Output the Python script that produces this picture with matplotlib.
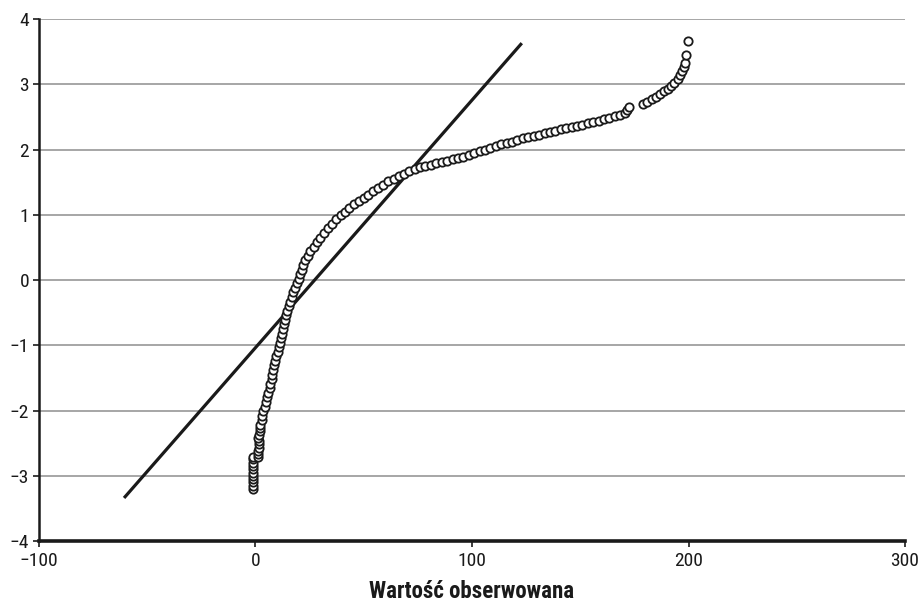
import matplotlib
matplotlib.use("Agg")
import matplotlib.pyplot as plt
from matplotlib import font_manager

# Prefer a narrow sans face for the labels
_names = {f.name for f in font_manager.fontManager.ttflist}
_narrow = [n for n in ('Liberation Sans Narrow', 'Roboto Condensed',
                       'Open Sans Condensed', 'DejaVu Sans Condensed')
           if n in _names]
plt.rcParams['font.family'] = _narrow + ['DejaVu Sans']
plt.rcParams['font.stretch'] = 'condensed'

# Observed values (x) and expected normal quantiles (y) of the sample
obs_x = [
    -1.0, -1.0, -1.0, -1.0, -1.0, -1.0, -1.0, -1.0, -1.0, -1.0, -1.0,
    1.0, 1.2, 1.0, 1.4, 1.8, 1.6, 1.2, 1.5, 2.0, 2.3,
    2.3, 2.8, 3.2, 3.6, 4.2, 4.8, 5.4, 6.0, 6.5, 6.9, 7.4, 7.8, 8.2, 8.7,
    9.2, 9.7, 10.2, 10.7, 11.2, 11.8, 12.3, 12.8, 13.3, 13.7, 14.2, 14.7,
    15.3, 15.9, 16.7, 17.5, 18.3, 19.1, 19.9, 20.6, 21.3, 22.1, 23.0, 24.1,
    25.4, 26.8, 28.3, 29.9, 31.6, 33.4, 35.3, 37.3, 39.4, 41.4, 43.4, 45.5,
    47.7, 49.9, 52.1, 54.4, 56.7, 59.0, 61.4, 63.8, 66.2, 68.6, 71.0, 73.5,
    76.0, 78.5, 81.0, 83.5, 86.0, 88.5, 91.0, 93.5, 96.0, 98.5, 101.0,
    103.5, 106.0, 108.5, 111.0, 113.5, 116.0, 118.5, 121.0, 123.5, 126.0,
    128.5, 131.0, 133.5, 136.0, 138.5, 141.0, 143.5, 146.0, 148.5, 151.0,
    153.5, 156.0, 158.5, 161.0, 163.5, 166.0, 168.5, 170.5, 171.5, 172.3,
    179.0, 181.0, 183.0, 185.0, 187.0, 188.8, 190.5, 192.0, 193.5, 195.0,
    196.2, 197.2, 197.8, 198.2, 198.8, 199.6,
]
exp_y = [
    -3.20, -3.15, -3.10, -3.05, -3.00, -2.95, -2.90, -2.85, -2.80, -2.75, -2.71,
    -2.72, -2.67, -2.62, -2.57, -2.52, -2.47, -2.42, -2.37, -2.32, -2.27,
    -2.22, -2.15, -2.08, -2.01, -1.94, -1.87, -1.80, -1.73, -1.66, -1.59,
    -1.52, -1.45, -1.38, -1.31, -1.24, -1.17, -1.10, -1.03, -0.96, -0.89,
    -0.82, -0.75, -0.68, -0.61, -0.54, -0.47, -0.40, -0.33, -0.26, -0.19,
    -0.12, -0.05, 0.02, 0.09, 0.16, 0.23, 0.30, 0.37, 0.44, 0.51, 0.58,
    0.65, 0.72, 0.79, 0.86, 0.93, 0.99, 1.05, 1.11, 1.16, 1.21, 1.26, 1.31,
    1.36, 1.41, 1.46, 1.51, 1.55, 1.59, 1.63, 1.67, 1.70, 1.73, 1.75, 1.77,
    1.79, 1.81, 1.83, 1.85, 1.87, 1.89, 1.91, 1.94, 1.97, 2.00, 2.03, 2.05,
    2.08, 2.10, 2.12, 2.15, 2.17, 2.19, 2.21, 2.23, 2.25, 2.27, 2.29, 2.31,
    2.33, 2.35, 2.36, 2.38, 2.40, 2.42, 2.44, 2.47, 2.49, 2.51, 2.53, 2.56,
    2.60, 2.65,
    2.69, 2.73, 2.77, 2.81, 2.85, 2.89, 2.93, 2.97, 3.02, 3.08, 3.14, 3.20,
    3.26, 3.32, 3.45, 3.66,
]

# Reference normal line
line_x = [-60.7, 123.0]
line_y = [-3.34, 3.63]

x_ticks = [-100, 0, 100, 200, 300]
y_ticks = [-4, -3, -2, -1, 0, 1, 2, 3, 4]
x_label = "Wartość obserwowana"

fig = plt.figure(figsize=(9.19, 6.02), dpi=100)
ax = fig.add_axes([0.0424, 0.1013, 0.9424, 0.8671])

ax.set_xlim(-100, 300)
ax.set_ylim(-4, 4)
ax.set_xticks(x_ticks)
ax.set_yticks(y_ticks)

ax.grid(axis='y', color='#a6a6a6', linewidth=1.4, zorder=0)
ax.set_axisbelow(True)

ax.plot(line_x, line_y, color='#1a1a1a', linewidth=2.3, zorder=2,
        solid_capstyle='butt')
ax.plot(obs_x, exp_y, linestyle='none', marker='o', markersize=6.0,
        markerfacecolor='white', markeredgecolor='#1a1a1a',
        markeredgewidth=1.3, zorder=3)

for side in ('top', 'right'):
    ax.spines[side].set_visible(False)
ax.spines['left'].set_linewidth(1.8)
ax.spines['left'].set_color('#1a1a1a')
ax.spines['bottom'].set_linewidth(2.6)
ax.spines['bottom'].set_color('#1a1a1a')
ax.spines['bottom'].set_zorder(4)

ax.tick_params(axis='both', direction='out', length=4, width=1.2,
               color='#1a1a1a', labelsize=14, labelcolor='#1a1a1a')
ax.tick_params(axis='x', pad=4)
ax.tick_params(axis='y', pad=3)

ax.set_xlabel(x_label, fontsize=16.5, fontweight='bold', color='#1a1a1a',
              labelpad=7)

fig.savefig("out.png", dpi=100)
